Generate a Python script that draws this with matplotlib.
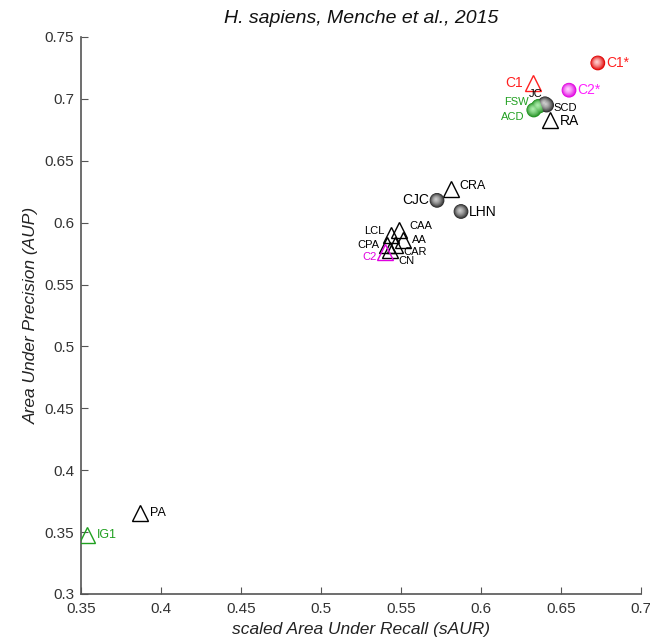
import numpy as np
import matplotlib
matplotlib.use("Agg")
import matplotlib.pyplot as plt
from matplotlib.colors import to_rgb

plt.rcParams["font.family"] = ["Liberation Sans", "DejaVu Sans"]

# ─── Data ────────────────────────────────────────────────────────────────────
# spheres (shaded circles)
sph_names = ["C1*", "C2*", "FSW", "ACD", "JC", "SCD", "CJC", "LHN"]
sph_x     = [0.673, 0.655, 0.636, 0.633, 0.640, 0.641, 0.5725, 0.5875]
sph_y     = [0.729, 0.707, 0.694, 0.691, 0.696, 0.695, 0.618, 0.609]
sph_edge  = ["#e00000", "#e000e0", "#1f8f1f", "#1f8f1f",
             "#2a2a2a", "#2a2a2a", "#2a2a2a", "#2a2a2a"]
sph_light = ["#ffc8c8", "#ffc8ff", "#a8eaa8", "#a8eaa8",
             "#c8c8c8", "#c8c8c8", "#c8c8c8", "#c8c8c8"]

# triangles (open markers)
tri_names = ["C1", "RA", "CRA", "CAA", "LCL", "AA", "CPA", "CAR", "CN", "C2", "PA", "IG1"]
tri_x     = [0.6325, 0.643, 0.581, 0.549, 0.544, 0.551, 0.541, 0.546, 0.543, 0.540, 0.387, 0.354]
tri_y     = [0.713, 0.683, 0.627, 0.594, 0.590, 0.586, 0.582, 0.582, 0.578, 0.576, 0.3655, 0.348]
tri_col   = ["#ff2020", "black", "black", "black", "black", "black", "black",
             "black", "black", "#e000e0", "black", "#20a020"]

# label offsets in points and alignment
label_cfg = {
    "C1*": (6, 0, "left", 10, "#ff2020"),
    "C2*": (6, 0, "left", 10, "#ff20ff"),
    "FSW": (-7, 3, "right", 8, "#20a020"),
    "ACD": (-7, -5, "right", 8, "#20a020"),
    "JC":  (-2, 7, "right", 8, "black"),
    "SCD": (5, -2, "left", 8, "black"),
    "CJC": (-6, 0, "right", 10, "black"),
    "LHN": (6, 0, "left", 10, "black"),
    "C1":  (-7, 0, "right", 10, "#ff2020"),
    "RA":  (7, -1, "left", 10, "black"),
    "CRA": (6, 2, "left", 9, "black"),
    "CAA": (7, 3, "left", 8, "black"),
    "LCL": (-5, 3, "right", 8, "black"),
    "AA":  (7, 0, "left", 8, "black"),
    "CPA": (-5, 0, "right", 8, "black"),
    "CAR": (6, -5, "left", 8, "black"),
    "CN":  (6, -8, "left", 8, "black"),
    "C2":  (-6, -3, "right", 8, "#e000e0"),
    "PA":  (7, 0, "left", 9, "black"),
    "IG1": (7, 0, "left", 9, "#20a020"),
}

fig = plt.figure(figsize=(6.5, 6.42), dpi=100)
ax = fig.add_axes([0.1246, 0.0748, 0.8616, 0.8676])

# open triangles
for n, x, y, c in zip(tri_names, tri_x, tri_y, tri_col):
    ax.plot(x, y, marker="^", ms=11, mfc="none", mec=c, mew=1.0, zorder=3)

# shaded spheres: stacked circles getting lighter towards the highlight
for x, y, ce, cl in zip(sph_x, sph_y, sph_edge, sph_light):
    edge = np.array(to_rgb(ce))
    light = np.array(to_rgb(cl))
    steps = 10
    for k in range(steps):
        t = k / (steps - 1)
        col = edge * (1 - t) + light * t
        size = 110 * (1 - t) ** 1.2 + 3
        ax.scatter(x - 0.0006 * t, y + 0.0008 * t, s=size, color=col,
                   edgecolors="none", zorder=4 + k * 0.01)

# labels
for n, x, y in list(zip(sph_names, sph_x, sph_y)) + list(zip(tri_names, tri_x, tri_y)):
    dx, dy, ha, fs, c = label_cfg[n]
    ax.annotate(n, (x, y), xytext=(dx, dy), textcoords="offset points",
                ha=ha, va="center", fontsize=fs, color=c, zorder=6)

ax.set_xlim(0.35, 0.7)
ax.set_ylim(0.3, 0.75)
ax.set_xticks(np.arange(0.35, 0.701, 0.05))
ax.set_yticks(np.arange(0.3, 0.751, 0.05))
ax.set_xticklabels(["0.35", "0.4", "0.45", "0.5", "0.55", "0.6", "0.65", "0.7"])
ax.set_yticklabels(["0.3", "0.35", "0.4", "0.45", "0.5", "0.55", "0.6", "0.65", "0.7", "0.75"])

for s in ["top", "right"]:
    ax.spines[s].set_visible(False)
for s in ["left", "bottom"]:
    ax.spines[s].set_color("#555555")
    ax.spines[s].set_linewidth(1.2)
ax.tick_params(direction="in", length=5, width=0.8, color="#555555",
               labelcolor="#333333", labelsize=11)
ax.tick_params(axis="x", pad=6)
ax.tick_params(axis="y", pad=5)

ax.set_xlabel("scaled Area Under Recall (sAUR)", fontsize=12.5, style="italic",
              color="#222222", labelpad=4)
ax.set_ylabel("Area Under Precision (AUP)", fontsize=12.5, style="italic",
              color="#222222")
ax.set_title("H. sapiens, Menche et al., 2015", fontsize=14, style="italic",
             color="#111111", pad=10)

fig.savefig("out.png", dpi=100)
